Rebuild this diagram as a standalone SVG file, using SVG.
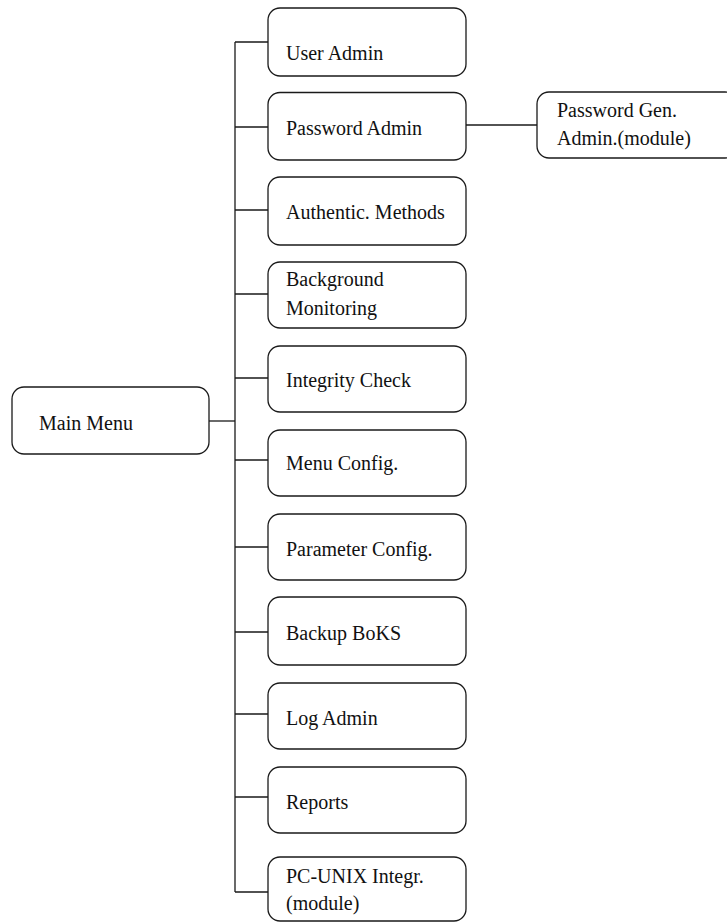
<svg xmlns="http://www.w3.org/2000/svg" width="727" height="923" viewBox="0 0 727 923">
<style>
.box{fill:#fff;stroke:#1a1a1a;stroke-width:1.3}
.lbl{font-family:"Liberation Serif","Times New Roman",serif;font-size:20px;fill:#111}
.con{stroke:#1a1a1a;stroke-width:1.3;fill:none}
</style>
<rect width="727" height="923" fill="#fff"/>
<g id="connectors">
<path class="con" d="M235 42V892"/>
<path class="con" d="M209 421H235"/>
<path class="con" d="M235 42H268M235 127H268M235 210H268M235 294H268M235 378H268M235 460H268M235 547H268M235 632H268M235 714H268M235 797H268M235 892H268"/>
<path class="con" d="M466 125H537"/>
</g>
<g id="main-menu"><rect class="box" x="12" y="387" width="197" height="67" rx="12"/><text class="lbl" x="39" y="430">Main Menu</text></g>
<g id="user-admin"><rect class="box" x="268" y="8" width="198" height="68" rx="12"/><text class="lbl" x="286" y="60">User Admin</text></g>
<g id="password-admin"><rect class="box" x="268" y="92.5" width="198" height="67.5" rx="12"/><text class="lbl" x="286" y="135">Password Admin</text></g>
<g id="password-gen"><rect class="box" x="537" y="92" width="200" height="66" rx="12"/><text class="lbl" x="557" y="117">Password Gen.</text><text class="lbl" x="557" y="145">Admin.(module)</text></g>
<g id="authentic-methods"><rect class="box" x="268" y="177" width="198" height="68" rx="12"/><text class="lbl" x="286" y="219">Authentic. Methods</text></g>
<g id="background-monitoring"><rect class="box" x="268" y="262" width="198" height="66" rx="12"/><text class="lbl" x="286" y="286">Background</text><text class="lbl" x="286" y="315">Monitoring</text></g>
<g id="integrity-check"><rect class="box" x="268" y="346" width="198" height="66" rx="12"/><text class="lbl" x="286" y="387">Integrity Check</text></g>
<g id="menu-config"><rect class="box" x="268" y="430" width="198" height="66" rx="12"/><text class="lbl" x="286" y="470">Menu Config.</text></g>
<g id="parameter-config"><rect class="box" x="268" y="514" width="198" height="66" rx="12"/><text class="lbl" x="286" y="556">Parameter Config.</text></g>
<g id="backup-boks"><rect class="box" x="268" y="597" width="198" height="68" rx="12"/><text class="lbl" x="286" y="640">Backup BoKS</text></g>
<g id="log-admin"><rect class="box" x="268" y="683" width="198" height="66" rx="12"/><text class="lbl" x="286" y="725">Log Admin</text></g>
<g id="reports"><rect class="box" x="268" y="767" width="198" height="66" rx="12"/><text class="lbl" x="286" y="809">Reports</text></g>
<g id="pc-unix"><rect class="box" x="268" y="857" width="198" height="64" rx="12"/><text class="lbl" x="286" y="883">PC-UNIX Integr.</text><text class="lbl" x="286" y="910">(module)</text></g>
</svg>
